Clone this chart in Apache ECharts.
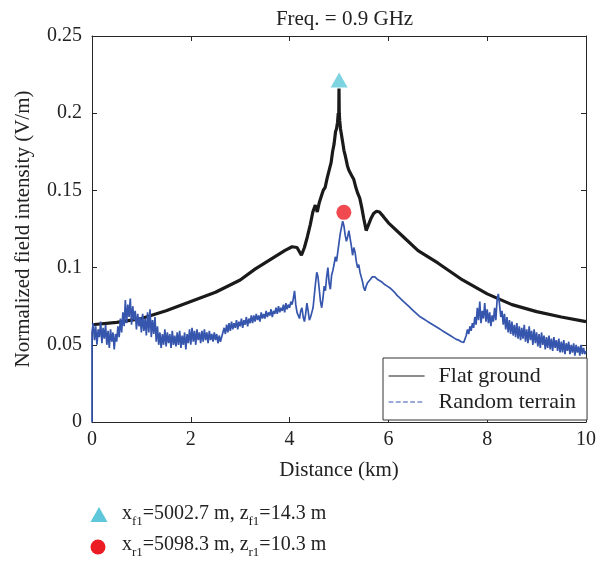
<!DOCTYPE html>
<html><head><meta charset="utf-8">
<script src="https://cdn.jsdelivr.net/npm/echarts@6/dist/echarts.min.js"></script>
<style>html,body{margin:0;padding:0;background:#fff}#c{width:599px;height:561px}</style>
</head><body><div id="c"></div>
<script>
// ---- data ----
const titleText = 'Freq. = 0.9 GHz';
const xTicks = [0, 2, 4, 6, 8, 10];
const yTicks = [0, 0.05, 0.1, 0.15, 0.2, 0.25];
const flatX = [0, 0.5, 1, 1.5, 2, 2.5, 3, 3.3, 3.6, 3.9, 4.05, 4.15, 4.24, 4.3, 4.36, 4.42, 4.47, 4.52, 4.56, 4.6, 4.64, 4.68, 4.72, 4.76, 4.8, 4.84, 4.87, 4.9, 4.93, 4.95, 4.97, 4.985, 4.995, 5.0, 5.005, 5.015, 5.03, 5.05, 5.08, 5.1, 5.13, 5.17, 5.2, 5.25, 5.3, 5.34, 5.38, 5.42, 5.46, 5.5, 5.55, 5.6, 5.65, 5.7, 5.76, 5.82, 5.9, 6.0, 6.3, 6.6, 7.0, 7.5, 8.0, 8.5, 9.0, 9.5, 10];
const flatY = [0.063, 0.0645, 0.067, 0.072, 0.078, 0.084, 0.092, 0.099, 0.105, 0.111, 0.1135, 0.113, 0.108, 0.113, 0.12, 0.128, 0.136, 0.1405, 0.136, 0.142, 0.146, 0.15, 0.152, 0.158, 0.163, 0.168, 0.175, 0.18, 0.188, 0.19, 0.194, 0.2, 0.198, 0.216, 0.2, 0.195, 0.19, 0.186, 0.18, 0.176, 0.172, 0.166, 0.163, 0.16, 0.157, 0.152, 0.148, 0.145, 0.139, 0.132, 0.124, 0.128, 0.132, 0.135, 0.1365, 0.136, 0.133, 0.129, 0.12, 0.111, 0.103, 0.092, 0.083, 0.076, 0.0715, 0.068, 0.065];
const terrainStep = 0.025; // sampling step (km) of the terrain curve
const terrainY = [
0.058,0.064,0.053,0.062,0.050,0.060,0.055,0.065,0.051,0.061,
0.054,0.063,0.050,0.059,0.048,0.060,0.052,0.058,0.047,0.057,
0.052,0.062,0.055,0.067,0.058,0.071,0.062,0.079,0.064,0.076,
0.068,0.080,0.063,0.075,0.066,0.072,0.060,0.070,0.062,0.068,
0.058,0.070,0.059,0.067,0.056,0.071,0.058,0.073,0.055,0.066,
0.057,0.068,0.052,0.062,0.050,0.058,0.048,0.057,0.050,0.060,
0.049,0.058,0.051,0.057,0.048,0.059,0.050,0.056,0.049,0.058,
0.050,0.059,0.048,0.056,0.050,0.058,0.047,0.057,0.051,0.060,
0.050,0.061,0.052,0.059,0.050,0.060,0.053,0.058,0.051,0.059,
0.052,0.060,0.053,0.058,0.051,0.059,0.053,0.057,0.052,0.058,
0.053,0.057,0.051,0.056,0.052,0.055,0.056,0.061,0.057,0.063,
0.058,0.064,0.059,0.065,0.060,0.064,0.061,0.066,0.060,0.065,
0.062,0.067,0.061,0.066,0.063,0.068,0.062,0.067,0.064,0.069,
0.064,0.069,0.065,0.070,0.066,0.069,0.065,0.071,0.067,0.070,
0.067,0.072,0.068,0.071,0.069,0.073,0.068,0.072,0.070,0.074,
0.070,0.075,0.071,0.074,0.072,0.076,0.071,0.077,0.073,0.076,
0.074,0.078,0.076,0.080,0.085,0.076,0.071,0.069,0.067,0.072,
0.074,0.068,0.065,0.070,0.077,0.072,0.066,0.068,0.071,0.074,
0.082,0.090,0.097,0.094,0.086,0.078,0.074,0.080,0.088,0.085,
0.094,0.100,0.090,0.086,0.095,0.098,0.102,0.107,0.104,0.110,
0.116,0.122,0.126,0.130,0.127,0.121,0.117,0.120,0.124,0.119,
0.114,0.108,0.113,0.110,0.104,0.100,0.102,0.097,0.094,0.091,
0.087,0.085,0.088,0.090,0.091,0.092,0.093,0.094,0.0935,0.094,
0.093,0.0925,0.092,0.0915,0.091,0.0905,0.090,0.089,0.0885,0.088,
0.0875,0.087,0.086,0.0855,0.085,0.084,0.083,0.082,0.081,0.0805,
0.080,0.079,0.078,0.0775,0.077,0.076,0.075,0.0745,0.074,0.073,
0.072,0.0715,0.071,0.070,0.069,0.0685,0.068,0.0675,0.067,0.0665,
0.066,0.0655,0.065,0.0645,0.064,0.0635,0.063,0.0625,0.062,0.0615,
0.061,0.0605,0.060,0.0595,0.059,0.0585,0.058,0.0575,0.057,0.0565,
0.056,0.0555,0.055,0.0545,0.054,0.0535,0.053,0.053,0.0525,0.052,
0.052,0.0515,0.052,0.056,0.060,0.057,0.062,0.059,0.064,0.061,
0.068,0.063,0.074,0.066,0.078,0.064,0.072,0.067,0.077,0.065,
0.073,0.064,0.071,0.062,0.069,0.065,0.074,0.066,0.079,0.083,
0.076,0.068,0.072,0.063,0.070,0.060,0.068,0.058,0.066,0.057,
0.065,0.056,0.063,0.055,0.064,0.054,0.062,0.053,0.061,0.054,
0.063,0.052,0.060,0.051,0.062,0.053,0.059,0.050,0.060,0.051,
0.058,0.049,0.057,0.048,0.058,0.050,0.056,0.047,0.055,0.048,
0.056,0.047,0.054,0.046,0.055,0.048,0.053,0.046,0.054,0.045,
0.052,0.045,0.053,0.044,0.051,0.046,0.052,0.044,0.050,0.045,
0.051,0.043,0.050,0.045,0.049,0.043,0.050,0.044,0.048,0.044,
0.046];
const flatPeak = [5.0027, 0.2215];
const terrainPeak = [5.0983, 0.1358];
const legendNames = ['Flat ground', 'Random terrain'];
// ---- build ----
const FONT = 'Liberation Serif';
const flatData = flatX.map((x, i) => [x, flatY[i]]);
const terrainData = [[0, 0]].concat(terrainY.map((y, i) => [+(i * terrainStep).toFixed(3), y]));
const chart = echarts.init(document.getElementById('c'), null, {renderer: 'canvas'});
const axisCommon = {
  type: 'value',
  axisLine: {show: true, onZero: false, lineStyle: {color: '#262626', width: 1}},
  axisTick: {show: true, inside: true, length: 5, lineStyle: {color: '#262626'}},
  splitLine: {show: false},
  axisLabel: {fontFamily: FONT, fontSize: 20, color: '#222'}
};
chart.setOption({
  animation: false,
  backgroundColor: '#fff',
  title: {text: titleText, left: 339.5, top: 4, textAlign: 'center',
    textStyle: {fontFamily: FONT, fontSize: 21, fontWeight: 'normal', color: '#222'}},
  grid: {left: 92, right: 12, top: 36, bottom: 139},
  xAxis: [
    Object.assign({}, axisCommon, {min: 0, max: 10, interval: 2, position: 'bottom',
      name: 'Distance (km)', nameLocation: 'middle', nameGap: 38,
      nameTextStyle: {fontFamily: FONT, fontSize: 21, color: '#222'},
      axisLabel: {fontFamily: FONT, fontSize: 20, color: '#222', margin: 8}}),
    Object.assign({}, axisCommon, {min: 0, max: 10, interval: 2, position: 'top',
      axisLabel: {show: false}})
  ],
  yAxis: [
    Object.assign({}, axisCommon, {min: 0, max: 0.25, interval: 0.05, position: 'left',
      name: 'Normalized field intensity (V/m)', nameLocation: 'middle', nameGap: 58,
      nameTextStyle: {fontFamily: FONT, fontSize: 21, color: '#222'},
      axisLabel: {fontFamily: FONT, fontSize: 20, color: '#222', margin: 10,
        formatter: v => String(+v.toFixed(2))}}),
    Object.assign({}, axisCommon, {min: 0, max: 0.25, interval: 0.05, position: 'right',
      axisLabel: {show: false}})
  ],
  legend: {
    data: [
      {name: legendNames[0], lineStyle: {width: 1.2, color: '#1a1a1a'}, itemStyle: {opacity: 0}},
      {name: legendNames[1], lineStyle: {type: 'dashed', width: 1.2, color: '#3655ad'}, itemStyle: {opacity: 0}}
    ],
    orient: 'vertical', left: 383, top: 358,
    itemWidth: 36, itemHeight: 14, itemGap: 4,
    padding: [7, 11, 7, 5],
    borderColor: '#333', borderWidth: 1, backgroundColor: '#fff',
    textStyle: {fontFamily: FONT, fontSize: 22, lineHeight: 22, color: '#222', padding: [0, 0, 0, 9]}
  },
  series: [
    {name: legendNames[0], type: 'line', data: flatData, symbol: 'none',
      lineStyle: {color: '#1a1a1a', width: 3.2}, itemStyle: {color: '#1a1a1a'}, z: 2},
    {name: legendNames[1], type: 'line', data: terrainData, symbol: 'none',
      lineStyle: {color: '#3655ad', width: 1.7}, itemStyle: {color: '#3655ad'}, z: 3},
    {name: 'fpeak', type: 'scatter', data: [flatPeak], symbol: 'triangle', symbolSize: [17, 15],
      itemStyle: {color: '#5ec8da'}, z: 5},
    {name: 'rpeak', type: 'scatter', data: [terrainPeak], symbol: 'circle', symbolSize: 15,
      itemStyle: {color: '#ec1c24'}, z: 5}
  ],
  graphic: [
    {type: 'polygon', shape: {points: [[99, 507], [107.5, 522], [90.5, 522]]}, style: {fill: '#5ec8da'}},
    {type: 'circle', shape: {cx: 98, cy: 547, r: 7.5}, style: {fill: '#ec1c24'}},
    {type: 'text', left: 122, top: 504, style: {
      text: '{a|x}{s|f1}{a|=5002.7 m, z}{s|f1}{a|=14.3 m}',
      rich: {a: {fontFamily: FONT, fontSize: 20, lineHeight: 22, verticalAlign: 'top', fill: '#222'},
             s: {fontFamily: FONT, fontSize: 13, lineHeight: 15, padding: [11, 0, 0, 0], verticalAlign: 'top', fill: '#222'}}}},
    {type: 'text', left: 122, top: 535, style: {
      text: '{a|x}{s|r1}{a|=5098.3 m, z}{s|r1}{a|=10.3 m}',
      rich: {a: {fontFamily: FONT, fontSize: 20, lineHeight: 22, verticalAlign: 'top', fill: '#222'},
             s: {fontFamily: FONT, fontSize: 13, lineHeight: 15, padding: [11, 0, 0, 0], verticalAlign: 'top', fill: '#222'}}}}
  ]
});
</script></body></html>
